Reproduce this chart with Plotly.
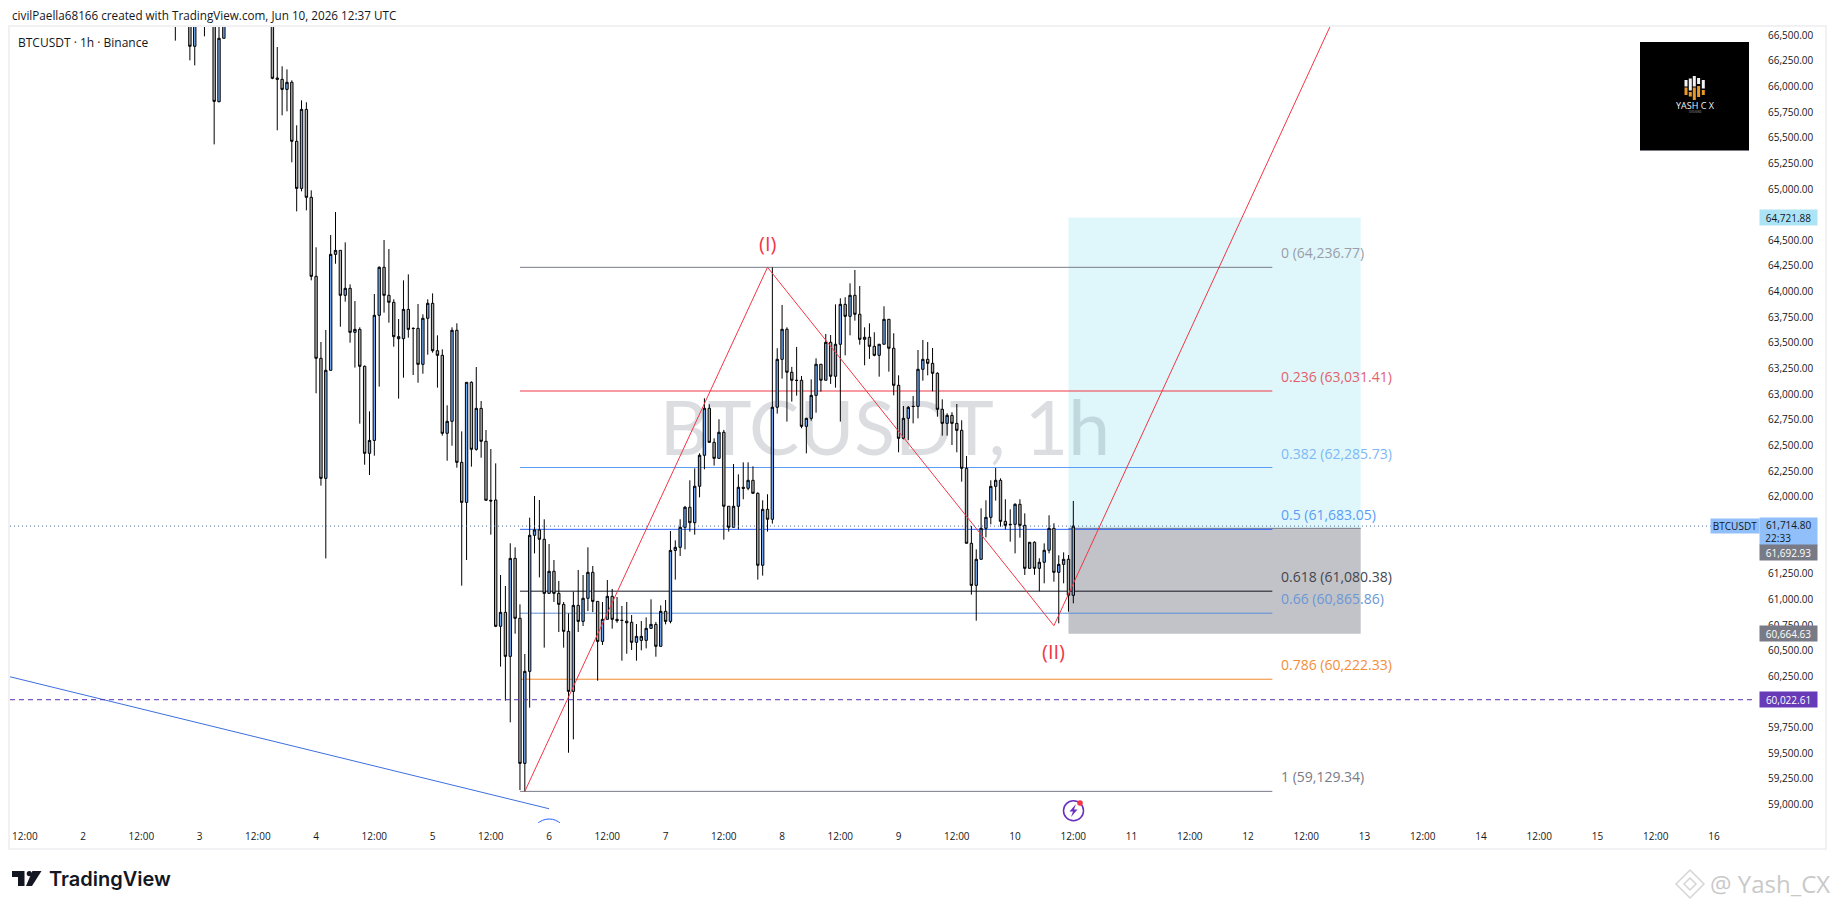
import pandas as pd
import plotly.graph_objects as go

# hourly candles, hours counted back from the last bar (bars above the top of the pane are left out)
hours_back = [185, 182, 181, 179, 177, 176, 175, 165, 164, 163, 162, 161, 160, 159, 158, 157, 156, 155, 154, 153, 152,
              151, 150, 149, 148, 147, 146, 145, 144, 143, 142, 141, 140, 139, 138, 137, 136, 135, 134, 133, 132, 131,
              130, 129, 128, 127, 126, 125, 124, 123, 122, 121, 120, 119, 118, 117, 116, 115, 114, 113, 112, 111, 110,
              109, 108, 107, 106, 105, 104, 103, 102, 101, 100, 99, 98, 97, 96, 95, 94, 93, 92, 91, 90, 89, 88, 87,
              86, 85, 84, 83, 82, 81, 80, 79, 78, 77, 76, 75, 74, 73, 72, 71, 70, 69, 68, 67, 66, 65, 64, 63, 62, 61,
              60, 59, 58, 57, 56, 55, 54, 53, 52, 51, 50, 49, 48, 47, 46, 45, 44, 43, 42, 41, 40, 39, 38, 37, 36, 35,
              34, 33, 32, 31, 30, 29, 28, 27, 26, 25, 24, 23, 22, 21, 20, 19, 18, 17, 16, 15, 14, 13, 12, 11, 10, 9, 8,
              7, 6, 5, 4, 3, 2, 1, 0]
opens = [66900, 66800, 66391, 66900, 66800, 65851, 66469, 66800, 66082, 66069, 65971, 66040, 65465, 65006, 65776, 64919,
         64149, 63350, 62180, 63233, 64363, 64402, 63964, 64032, 63603, 63632, 63272, 62424, 62550, 63769, 64237, 63964,
         63896, 63561, 63541, 63827, 63642, 63642, 63291, 63740, 63886, 63424, 63379, 62619, 62736, 63623, 62336, 61946,
         63116, 62463, 62862, 62541, 61966, 61969, 60738, 60874, 60445, 61400, 60816, 59402, 60299, 61625, 61677, 61586,
         61059, 61274, 61059, 60952, 60689, 60104, 60942, 60786, 61011, 61264, 60981, 60591, 60806, 61030, 60806, 60797,
         60788, 60777, 60582, 60601, 60601, 60718, 60757, 60543, 60884, 60786, 61478, 61508, 61703, 61898, 61748, 62103,
         62405, 62863, 62531, 62375, 62629, 61908, 61703, 61908, 62093, 62083, 62161, 62034, 61333, 61878, 61781, 62873,
         63340, 63633, 63214, 63136, 63136, 62687, 62765, 62989, 63292, 63136, 63506, 63175, 63487, 63876, 63759, 63964,
         63779, 63535, 63555, 63467, 63379, 63487, 63730, 63448, 63087, 62570, 62765, 62882, 62882, 63243, 63340, 63301,
         63204, 62853, 62716, 62794, 62716, 62648, 62278, 61547, 61137, 61391, 61693, 61800, 62102, 62161, 61761, 61732,
         61732, 61927, 61722, 61303, 61557, 61303, 61362, 61479, 61693, 61264, 61342, 61391, 61040]
highs = [67000, 67000, 67100, 67000, 67000, 66650, 67000, 66900, 66384, 66196, 66166, 66059, 65621, 65864, 65845, 64987,
         64432, 63509, 63626, 64552, 64776, 64402, 64480, 64071, 63908, 63652, 63280, 62833, 63977, 64246, 64503, 64415,
         63925, 63733, 64110, 64168, 63652, 63879, 63779, 63925, 63983, 63574, 63437, 62892, 63652, 63691, 62638, 63116,
         63125, 63265, 62934, 62651, 62466, 62326, 61238, 61131, 61547, 61508, 60952, 60468, 61797, 62008, 61969, 61781,
         61540, 61384, 61180, 60975, 60864, 61076, 61287, 61238, 61508, 61326, 60981, 60975, 61189, 61102, 61024, 60936,
         60975, 60848, 60760, 60790, 60825, 61001, 60780, 60942, 60994, 61667, 61576, 61781, 61911, 62161, 62278, 62424,
         62960, 62902, 62570, 62756, 62652, 61908, 62320, 62219, 62336, 62336, 62297, 62044, 61966, 62025, 64237, 63448,
         63870, 63652, 63266, 63461, 63178, 62770, 63145, 63350, 63292, 63587, 63577, 63876, 63935, 63945, 64081, 64211,
         64055, 63652, 63691, 63604, 63490, 63857, 63730, 63594, 63184, 62885, 62885, 62983, 63431, 63529, 63509, 63451,
         63214, 62950, 62814, 62824, 62905, 62746, 62398, 61716, 61488, 61888, 61966, 62161, 62281, 62180, 61976, 61878,
         61937, 61976, 61839, 61557, 61566, 61401, 61546, 61820, 61742, 61430, 61459, 61433, 61960]
lows = [66446, 66254, 66205, 66488, 65435, 65845, 66469, 66070, 65572, 65718, 65757, 65260, 64782, 64977, 64792, 64110,
        63009, 62109, 61400, 63233, 64272, 63658, 63902, 63502, 63259, 62713, 62313, 62213, 62401, 63074, 63795, 63697,
        63463, 62957, 63161, 63551, 63187, 63112, 63200, 63385, 63405, 63064, 62596, 62352, 62498, 62284, 61134, 61384,
        62294, 62450, 62381, 61966, 61631, 60730, 60345, 60013, 59802, 60666, 59142, 59129, 59945, 61449, 61215, 60530,
        61059, 60975, 60682, 60530, 59506, 59636, 60682, 60741, 60887, 60877, 60208, 60556, 60806, 60715, 60773, 60403,
        60471, 60507, 60403, 60504, 60523, 60718, 60442, 60543, 60757, 60767, 61193, 61423, 61488, 61661, 61631, 61995,
        62268, 62528, 62304, 62375, 61583, 61661, 61703, 61683, 61976, 62064, 62034, 61193, 61232, 61661, 61739, 62811,
        63152, 62733, 62928, 62986, 62668, 62424, 62742, 62820, 63025, 63136, 63100, 63064, 62733, 63379, 63574, 63717,
        63483, 63282, 63344, 63370, 63171, 63487, 63220, 62989, 62434, 62560, 62554, 62716, 62765, 63132, 63184, 63028,
        62781, 62596, 62596, 62505, 62434, 62148, 61547, 61046, 60793, 61391, 61605, 61732, 61963, 61709, 61683, 61563,
        61449, 61602, 61238, 61303, 61240, 61079, 61157, 61449, 61173, 60767, 61157, 60881, 60962]
closes = [66700, 66391, 66900, 66750, 65854, 66469, 66900, 66079, 66069, 65971, 66040, 65465, 65006, 65776, 64919, 64149,
          63350, 62180, 63233, 64363, 64402, 63964, 64032, 63603, 63632, 63272, 62424, 62550, 63769, 64237, 63964, 63896,
          63561, 63541, 63827, 63632, 63640, 63291, 63740, 63886, 63424, 63379, 62619, 62736, 63623, 62336, 61946, 63116,
          62463, 62862, 62541, 61966, 61960, 60738, 60874, 60445, 61400, 60816, 59402, 60299, 61625, 61677, 61586, 61059,
          61274, 61059, 60952, 60689, 60104, 60942, 60786, 61011, 61264, 60981, 60591, 60806, 61030, 60806, 60793, 60795,
          60773, 60582, 60640, 60640, 60718, 60757, 60543, 60884, 60786, 61478, 61508, 61703, 61898, 61748, 62103, 62405,
          62863, 62531, 62375, 62629, 61908, 61703, 61908, 62093, 62083, 62161, 62034, 61333, 61878, 61781, 62873, 63340,
          63633, 63214, 63136, 63134, 62687, 62765, 62989, 63292, 63136, 63506, 63175, 63487, 63876, 63759, 63964, 63779,
          63535, 63555, 63467, 63379, 63487, 63730, 63448, 63087, 62570, 62765, 62872, 62880, 63243, 63340, 63301, 63204,
          62853, 62716, 62794, 62716, 62648, 62278, 61547, 61137, 61391, 61693, 61800, 62102, 62161, 61761, 61722, 61728,
          61927, 61722, 61303, 61557, 61303, 61362, 61479, 61693, 61264, 61342, 61391, 61040, 61714.8]

# fib retracement levels
fib_ratios = ["0", "0.236", "0.382", "0.5", "0.618", "0.66", "0.786", "1"]
fib_prices = [64236.77, 63031.41, 62285.73, 61683.05, 61080.38, 60865.86, 60222.33, 59129.34]
fib_hours = [114, -41]

# long position box
box_hours = [1, -59.2]
target_price = 64721.88
entry_price = 61692.93
stop_price = 60664.63

# drawn lines
wave_hours = [113, 63, 4, -55]
wave_prices = [59129.34, 64236.77, 60744, 66800]
trend_hours = [225, 108]
trend_prices = [60315, 58960]
last_price = 61714.80
alert_price = 60022.61

# axis labels
price_ticks = list(range(59000, 66501, 250))
price_labels = [f"{v:,.2f}" for v in price_ticks]
time_labels = ["12:00", "2", "12:00", "3", "12:00", "4", "12:00", "5", "12:00", "6", "12:00", "7", "12:00", "8", "12:00",
               "9", "12:00", "10", "12:00", "11", "12:00", "12", "12:00", "13", "12:00", "14", "12:00", "15", "12:00", "16"]

# styles
fib_colors = ["#787b86", "#f23645", "#5b9cf6", "#2962ff", "#131722", "#5b8fd6", "#f28a2e", "#787b86"]
fib_text_colors = ["#9a9da8", "#e4606d", "#7db8f7", "#5b9cf6", "#444650", "#6b97d6", "#f28e3c", "#787b86"]
TEXT = "#131722"
FONT = "Open Sans"

W, H = 1835, 909
L, R, T, B = 10, 1759, 27, 823


# pixel -> paper fraction, only for the page furniture around the chart
def px(x):
    return (x - L) / (R - L)


def py(y):
    return (B - y) / (B - T)


last_bar = pd.Timestamp("2026-06-10 12:00")


def at(hours):
    return str(last_bar - pd.Timedelta(hours=hours))


def path(points):
    return "M " + " L ".join(f"{px(x)} {py(y)}" for x, y in points) + " Z"


def paper_rect(x0, y0, x1, y1, fill, layer="above", line=None):
    return dict(type="rect", xref="paper", yref="paper", x0=px(x0), x1=px(x1), y0=py(y0), y1=py(y1),
                fillcolor=fill, layer=layer, line=dict(width=0) if line is None else line)


def paper_circle(x, y, r, fill="rgba(0,0,0,0)", line=None):
    return dict(type="circle", xref="paper", yref="paper", x0=px(x - r), x1=px(x + r), y0=py(y - r), y1=py(y + r),
                fillcolor=fill, line=dict(width=0) if line is None else line)


def paper_path(points, fill, line=None):
    return dict(type="path", xref="paper", yref="paper", path=path(points), fillcolor=fill,
                line=dict(width=0) if line is None else line)


fig = go.Figure()

fig.add_trace(go.Candlestick(
    x=[last_bar - pd.Timedelta(hours=h) for h in hours_back],
    open=opens, high=highs, low=lows, close=closes,
    increasing=dict(line=dict(color="#000000", width=1), fillcolor="#6fa8f2"),
    decreasing=dict(line=dict(color="#000000", width=1), fillcolor="#b0b0b0"),
    whiskerwidth=0, showlegend=False))

fig.add_trace(go.Scatter(x=[at(h) for h in wave_hours], y=wave_prices, mode="lines",
                         line=dict(color="#f23645", width=1), showlegend=False))
fig.add_trace(go.Scatter(x=[at(h) for h in trend_hours], y=trend_prices, mode="lines",
                         line=dict(color="#3d6fe0", width=1), showlegend=False))

shapes = [
    # pane frame
    dict(type="rect", xref="paper", yref="paper", x0=px(9), x1=px(1826), y0=py(26), y1=py(849), layer="below",
         line=dict(color="#f1f1f3", width=2)),
    # big symbol watermark, under the candles
    dict(type="rect", xref="paper", yref="paper", x0=px(640), x1=px(1130), y0=py(380), y1=py(470), layer="below",
         line=dict(width=0), fillcolor="rgba(0,0,0,0)",
         label=dict(text="BTCUSDT, 1h", textposition="middle center",
                    font=dict(family="Lato", size=75, color="#dcdde0"))),
    # position box
    dict(type="rect", x0=at(box_hours[0]), x1=at(box_hours[1]), y0=entry_price, y1=target_price, layer="below",
         fillcolor="rgba(0,188,212,0.125)", line=dict(width=0)),
    dict(type="rect", x0=at(box_hours[0]), x1=at(box_hours[1]), y0=stop_price, y1=entry_price, layer="below",
         fillcolor="rgba(120,123,134,0.45)", line=dict(width=0)),
    dict(type="line", x0=at(box_hours[0]), x1=at(box_hours[1]), y0=entry_price, y1=entry_price, layer="below",
         line=dict(color="#787b86", width=1)),
    # horizontal price lines
    dict(type="line", xref="paper", x0=0, x1=1, y0=last_price, y1=last_price,
         line=dict(color="#4f6f9e", width=1, dash="1px,3px")),
    dict(type="line", xref="paper", x0=0, x1=px(1753), y0=alert_price, y1=alert_price,
         line=dict(color="#5a2fb0", width=1, dash="5px,4px")),
    # clipped arc under the low
    dict(type="circle", x0=at(111.5), x1=at(104.5), y0=58529, y1=58860, line=dict(color="#2962ff", width=1)),
    # yash cx logo
    paper_rect(1640, 42, 1749, 150, "#000000"),
    paper_rect(1640, 150, 1749, 151, "#787b86"),
    # flash icon
    paper_circle(1073.5, 810.7, 10, line=dict(color="#6a2fc0", width=1.5)),
    paper_path([(1076, 804), (1069.5, 811.5), (1073, 811.5), (1071, 817), (1077.5, 809.5), (1074, 809.5)], "#6a2fc0"),
    paper_circle(1080, 803, 2.8, fill="#f23645"),
    # tradingview mark
    paper_path([(12, 871), (24.5, 871), (24.5, 886), (18, 886), (18, 877), (12, 877)], "#131722"),
    paper_circle(29.3, 873.6, 2.6, fill="#131722"),
    paper_path([(32.4, 871), (41.5, 871), (32, 886), (26, 886)], "#131722"),
    # binance diamond of the bottom corner watermark
    paper_path([(1690, 870), (1704, 884), (1690, 898), (1676, 884)], "rgba(0,0,0,0)", line=dict(color="#d5d5d5", width=1.5)),
    paper_path([(1690, 878), (1696, 884), (1690, 890), (1684, 884)], "rgba(0,0,0,0)", line=dict(color="#d5d5d5", width=1.5)),
]

# logo bars: white above, orange below
for x, a, b, c, d in [(1686, 80, 86.5, 87.5, 95), (1690.3, 78.5, 90.5, 92, 96.5), (1694.3, 76, 86.5, 87.5, 100),
                      (1698.6, 78, 84, 86, 97), (1703.3, 80, 88.5, 90, 95)]:
    shapes.append(paper_rect(x - 1.5, a, x + 1.5, b, "#f2f2f2"))
    shapes.append(paper_rect(x - 1.5, c, x + 1.5, d, "#e8992c"))

for price, color in zip(fib_prices, fib_colors):
    shapes.append(dict(type="line", x0=at(fib_hours[0]), x1=at(fib_hours[1]), y0=price, y1=price, layer="below",
                       line=dict(color=color, width=1)))

annotations = []


def page_text(x, y, text, size, color=TEXT, anchor="left", family=FONT, weight=None):
    annotations.append(dict(text=text, xref="paper", yref="paper", x=px(x), y=py(y), xanchor=anchor, yanchor="middle",
                            showarrow=False, font=dict(family=family, size=size, color=color, weight=weight)))


def price_tag(price, text, bg, color, yshift=0, height=15, x=1788.5, width=57):
    annotations.append(dict(text=text, xref="paper", x=px(x), y=price, xanchor="center", yanchor="middle", yshift=yshift,
                            showarrow=False, bgcolor=bg, width=width, height=height, borderpad=0,
                            font=dict(family=FONT, size=10, color=color)))


page_text(9.5, 15, "civilPaella68166 created with TradingView.com, Jun 10, 2026 12:37 UTC", 11.7)
page_text(16, 42, "BTCUSDT · 1h · Binance", 12)
page_text(47, 879, "TradingView", 20, family="Inter", weight=600)
page_text(1708, 883, "@ Yash_CX", 24, color="#c9c9c9")
page_text(1695, 105, "YASH C X", 9, color="#f2f2f2", anchor="center")
page_text(1695, 112, "DESIGNS", 3, color="#9a9a9a", anchor="center")

for ratio, price, color in zip(fib_ratios, fib_prices, fib_text_colors):
    annotations.append(dict(text=f"{ratio} ({price:,.2f})", x=at(fib_hours[1]), y=price, xanchor="left", yanchor="middle",
                            xshift=7, yshift=14.5, showarrow=False, font=dict(family=FONT, size=14, color=color)))

annotations.append(dict(text="(I)", x=at(wave_hours[1]), y=wave_prices[1], yshift=24, showarrow=False,
                        font=dict(family=FONT, size=20, color="#f23645")))
annotations.append(dict(text="(II)", x=at(wave_hours[2]), y=wave_prices[2], yshift=-26, showarrow=False,
                        font=dict(family=FONT, size=20, color="#f23645")))

price_tag(target_price, f"{target_price:,.2f}", "#ade4f5", TEXT)
price_tag(last_price, f"{last_price:,.2f}<br>22:33" + "\u00a0" * 8, "#90bff9", TEXT, yshift=-5.5, height=27)
price_tag(entry_price, f"{entry_price:,.2f}", "#787b86", "#ffffff", yshift=-24)
price_tag(stop_price, f"{stop_price:,.2f}", "#787b86", "#ffffff")
price_tag(alert_price, f"{alert_price:,.2f}", "#673ab7", "#ffffff")
price_tag(last_price, "BTCUSDT", "#90bff9", TEXT, yshift=0, height=14, x=1735, width=48)

fig.update_layout(
    width=W, height=H, margin=dict(l=L, r=W - R, t=T, b=H - B, autoexpand=False),
    paper_bgcolor="#ffffff", plot_bgcolor="#ffffff",
    font=dict(family=FONT, size=10, color=TEXT),
    shapes=shapes, annotations=annotations, showlegend=False,
    xaxis=dict(type="date", range=[at(219.06), at(-141.26)], rangeslider=dict(visible=False), showgrid=False,
               zeroline=False, showline=False, ticks="", tickmode="array",
               tickvals=pd.date_range("2026-06-01 12:00", periods=len(time_labels), freq="12h"), ticktext=time_labels,
               tickfont=dict(family=FONT, size=10, color=TEXT), ticklabelstandoff=6),
    yaxis=dict(side="right", range=[58821, 66579], showgrid=False, zeroline=False, showline=False, ticks="",
               tickmode="array", tickvals=price_ticks, ticktext=price_labels,
               tickfont=dict(family=FONT, size=10, color=TEXT), ticklabelstandoff=8),
)

fig.write_html("out.html", config=dict(displayModeBar=False), post_script="document.body.style.margin='0';")
